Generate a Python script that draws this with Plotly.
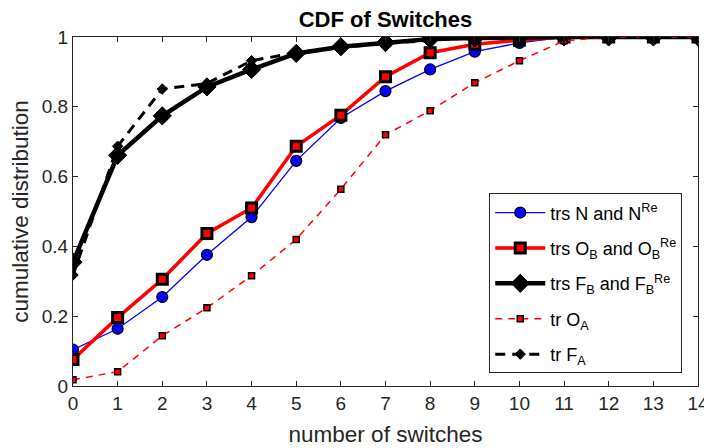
import plotly.graph_objects as go

x = list(range(15))
trs_N = [0.104, 0.164, 0.255, 0.376, 0.484, 0.645, 0.768, 0.845, 0.907, 0.958, 0.983, 1.0, 1.0, 1.0, 1.0]
trs_OB = [0.076, 0.196, 0.306, 0.437, 0.510, 0.687, 0.776, 0.886, 0.955, 0.979, 0.991, 1.0, 1.0, 1.0, 1.0]
trs_FB = [0.355, 0.661, 0.774, 0.857, 0.907, 0.953, 0.972, 0.984, 0.994, 0.997, 1.0, 1.0, 1.0, 1.0, 1.0]
tr_OA = [0.018, 0.041, 0.144, 0.224, 0.316, 0.420, 0.564, 0.720, 0.789, 0.869, 0.932, 0.989, 1.0, 1.0, 1.0]
tr_FA = [0.318, 0.687, 0.851, 0.867, 0.932, 0.955, 0.970, 0.982, 0.990, 1.0, 1.0, 1.0, 1.0, 1.0, 1.0]

names = ["trs N and N<sup>Re</sup>",
         "trs O<sub>B</sub> and O<sub>B</sub><sup>Re</sup>",
         "trs F<sub>B</sub> and F<sub>B</sub><sup>Re</sup>",
         "tr O<sub>A</sub>",
         "tr F<sub>A</sub>"]

FONT = "Liberation Sans, Arial, Helvetica"

fig = go.Figure()
fig.add_trace(go.Scatter(x=x, y=trs_N, name=names[0], mode="lines+markers", legendgroup="a",
                         line=dict(color="#0000ff", width=1.3),
                         marker=dict(symbol="circle", size=11, color="#0000ff", line=dict(color="black", width=1.2))))
fig.add_trace(go.Scatter(x=x, y=trs_OB, name=names[1], mode="lines+markers", legendgroup="b",
                         line=dict(color="#ff0000", width=3.5),
                         marker=dict(symbol="square", size=10, color="#ff0000", line=dict(color="black", width=3))))
fig.add_trace(go.Scatter(x=x, y=trs_FB, name=names[2], mode="lines+markers", legendgroup="c",
                         line=dict(color="black", width=4.5),
                         marker=dict(symbol="diamond", size=14, color="black", line=dict(color="black", width=1))))
fig.add_trace(go.Scatter(x=x, y=tr_OA, name=names[3], mode="lines+markers", legendgroup="d",
                         line=dict(color="#ff0000", width=1.5, dash="7px,6px"),
                         marker=dict(symbol="square", size=6, color="#ff0000", line=dict(color="black", width=1.5))))
fig.add_trace(go.Scatter(x=x, y=tr_FA, name=names[4], mode="lines+markers", legendgroup="e",
                         line=dict(color="black", width=3, dash="10px,7px"),
                         marker=dict(symbol="diamond", size=8, color="black", line=dict(color="black", width=1))))

axis_common = dict(showline=True, linecolor="#262626", linewidth=1, mirror="ticks",
                   ticks="inside", ticklen=5, tickcolor="#262626", showgrid=False, zeroline=False,
                   automargin=False,
                   tickfont=dict(family=FONT, size=19, color="#262626"))

fig.update_layout(
    width=704, height=440,
    margin=dict(l=65, r=14, t=29, b=62),
    paper_bgcolor="white", plot_bgcolor="white",
    title=dict(text="<b>CDF of Switches</b>", xref="paper", x=0.5, xanchor="center",
               yref="container", y=0.974, yanchor="middle",
               font=dict(family=FONT, size=22, color="black")),
    xaxis=dict(range=[0, 14], tickmode="array", tickvals=list(range(15)),
               title=dict(text="number of switches", standoff=13,
                          font=dict(family=FONT, size=22.5, color="#262626")),
               **axis_common),
    yaxis=dict(range=[0, 1], tickmode="array", tickvals=[0, 0.2, 0.4, 0.6, 0.8, 1],
               ticktext=["0", "0.2", "0.4", "0.6", "0.8", "1"],
               title=dict(text="cumulative distribution", standoff=14,
                          font=dict(family=FONT, size=22.5, color="#262626")),
               **axis_common),
    legend=dict(x=0.666, y=0.552, xanchor="left", yanchor="top",
                bordercolor="#262626", borderwidth=1, bgcolor="white",
                font=dict(family=FONT, size=18, color="black"),
                itemwidth=50, tracegroupgap=9),
    showlegend=True,
)

fig.write_html("out.html")
